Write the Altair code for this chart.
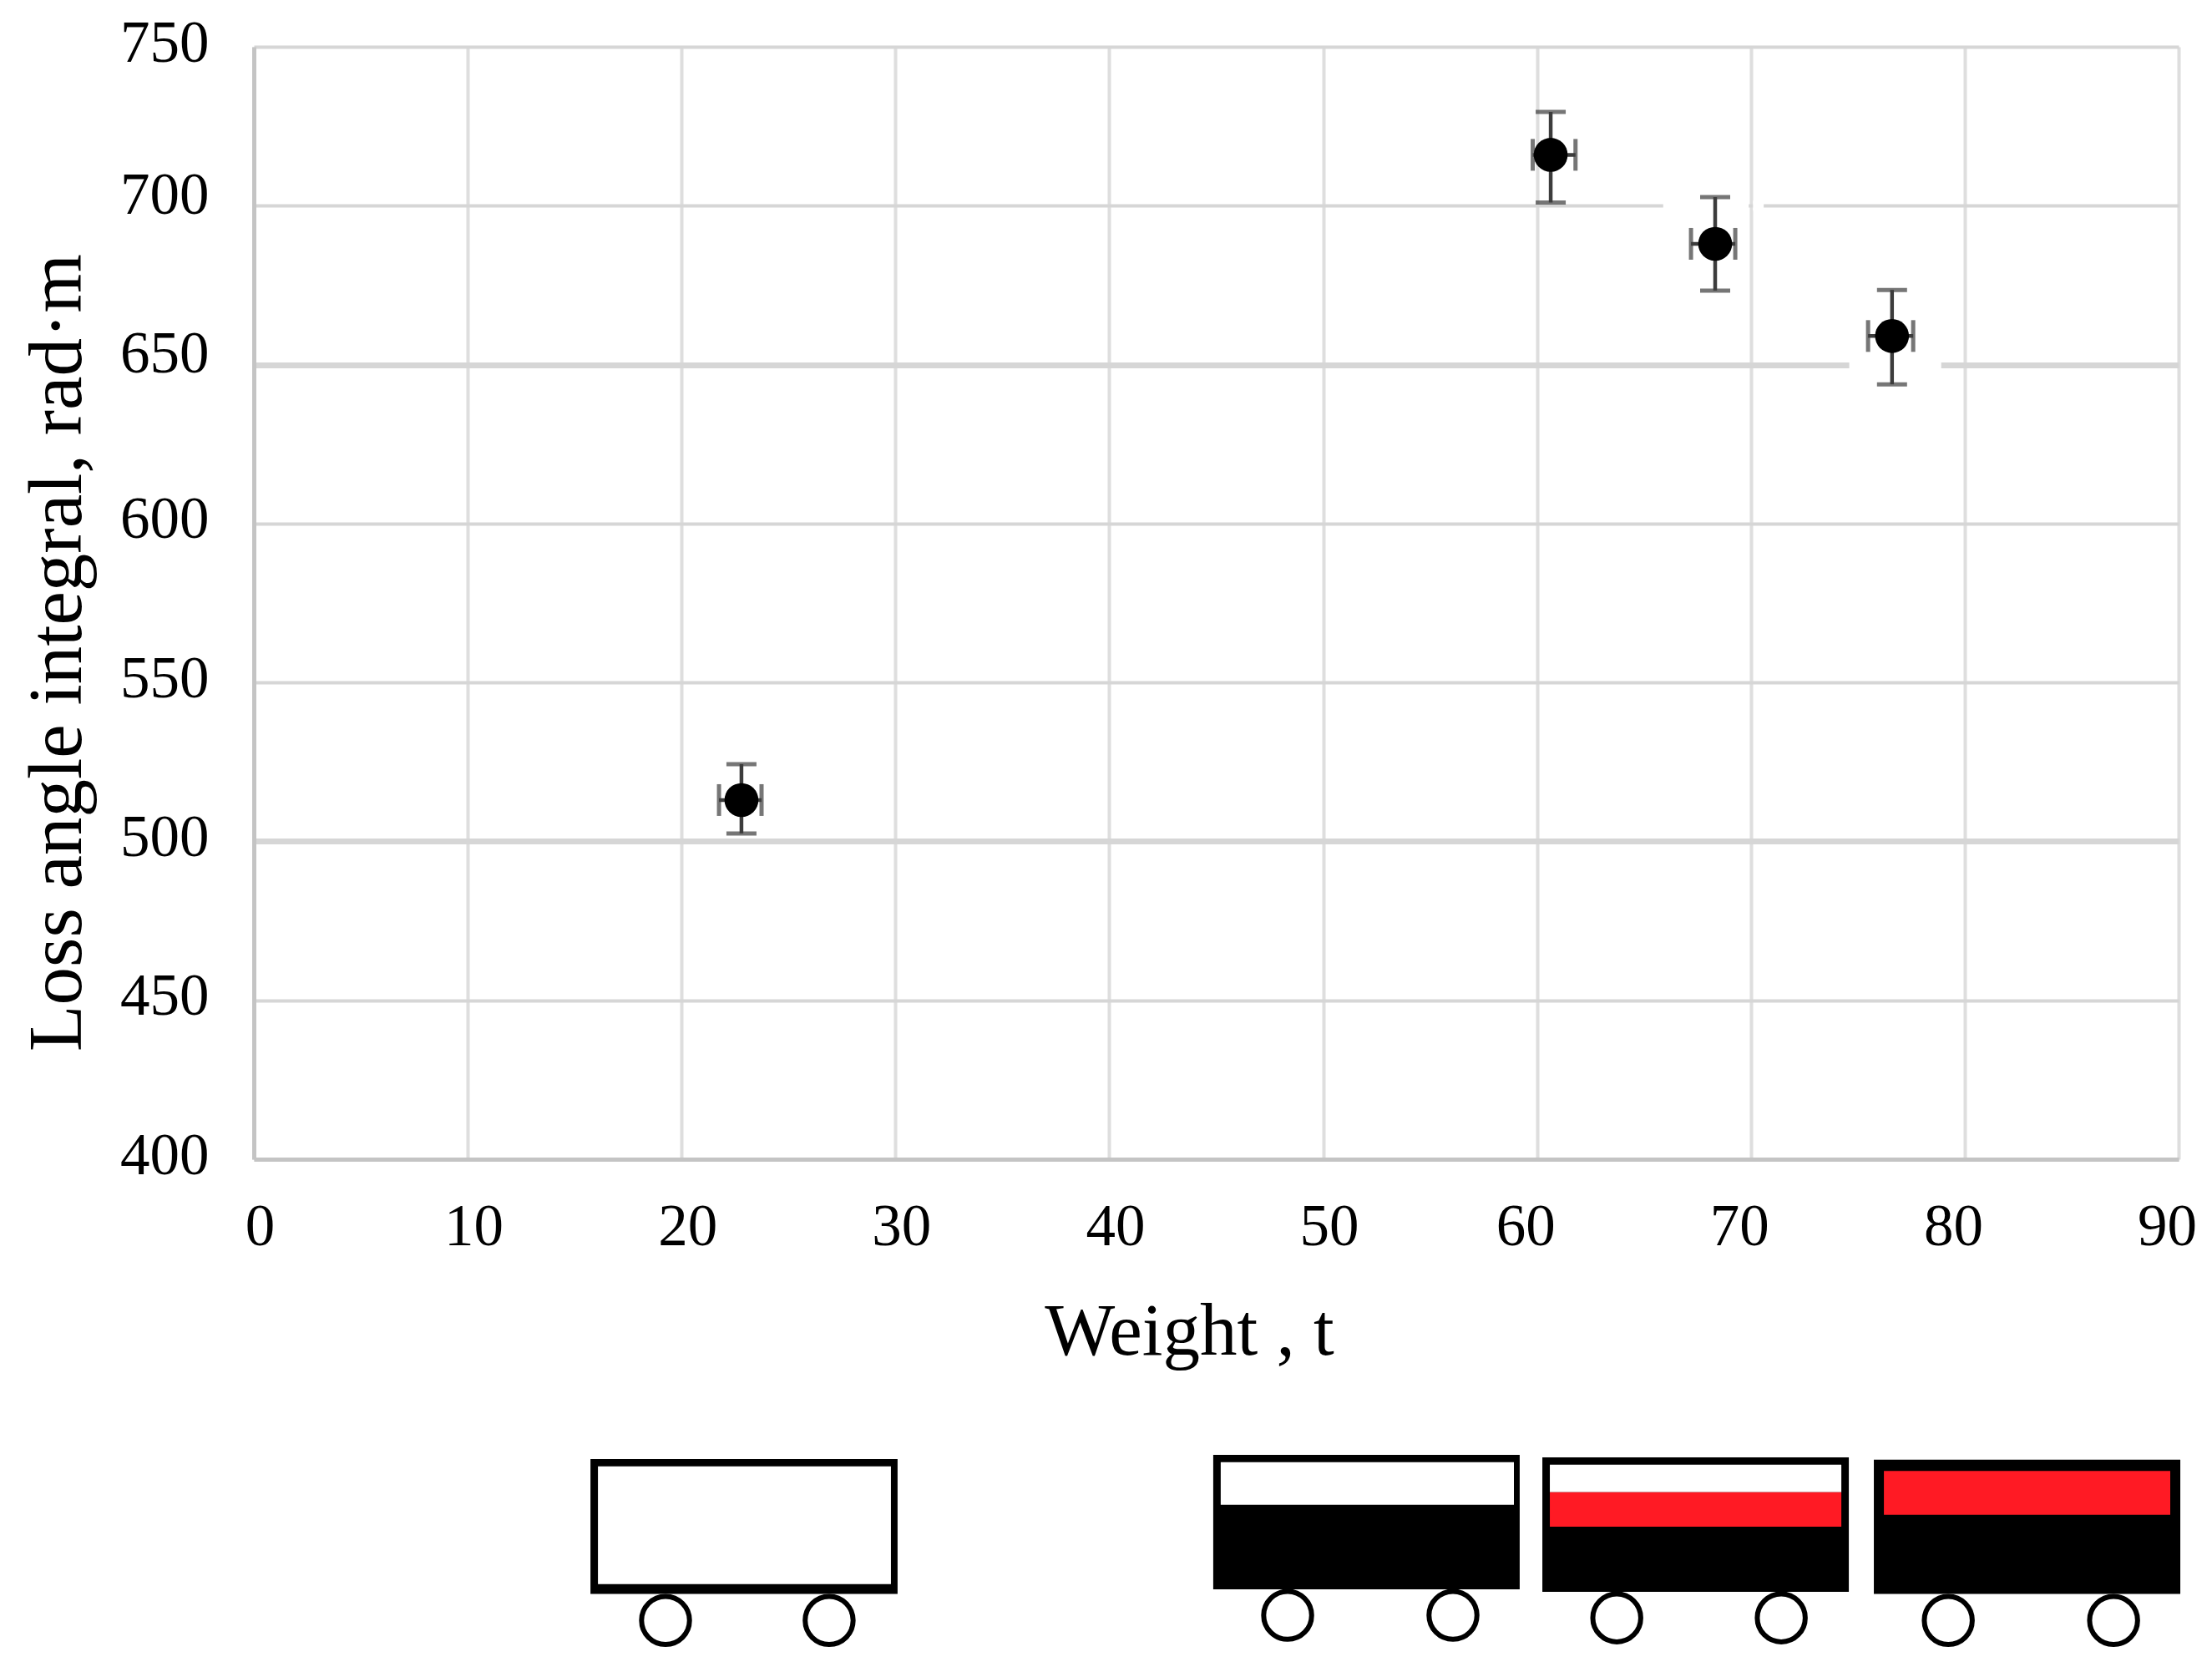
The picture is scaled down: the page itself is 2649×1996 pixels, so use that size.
import altair as alt
import pandas as pd

# measured points
weight = [22.8, 60.64, 68.33, 76.6]
loss = [513, 716, 688, 659]
loss_lo = [502.5, 701, 673.3, 643.8]
loss_hi = [524.3, 729.5, 702.7, 673.5]
weight_lo = [21.75, 59.8, 67.2, 75.48]
weight_hi = [23.74, 61.8, 69.27, 77.59]

x_ticks = [0, 10, 20, 30, 40, 50, 60, 70, 80, 90]
y_ticks = [400, 450, 500, 550, 600, 650, 700, 750]

# wagon pictogram, in data units below the axis
box_x = [15.74, 16.09, 44.86, 45.21, 60.25, 60.6, 60.6, 75.75, 76.22]
box_x2 = [30.1, 29.79, 59.19, 58.92, 74.58, 74.23, 74.23, 90.08, 89.61]
box_y = [305.7, 303.4, 307.0, 304.7, 306.2, 303.9, 295.2, 305.5, 301.9]
box_y2 = [263.2, 266.3, 264.7, 291.3, 263.9, 295.2, 284.4, 263.2, 288.1]
box_color = ["#000000", "#ffffff", "#000000", "#ffffff", "#000000", "#ffffff", "#ff1a24", "#000000", "#ff1a24"]
wheel_x = [19.25, 26.9, 48.34, 56.07, 63.73, 71.42, 79.23, 86.96]
wheel_y = [254.9, 254.9, 256.5, 256.5, 255.7, 255.7, 254.9, 254.9]

# places where the picture's grid lines are broken
gap_x = [65.9, 70.1, 74.6]
gap_x2 = [69.9, 70.6, 78.9]
gap_y = [700, 700, 650]

pts = pd.DataFrame(dict(x=weight, y=loss, ylo=loss_lo, yhi=loss_hi, xlo=weight_lo, xhi=weight_hi))
boxes = pd.DataFrame(dict(x=box_x, x2=box_x2, y=box_y, y2=box_y2, c=box_color))
wheels = pd.DataFrame(dict(x=wheel_x, y=wheel_y))
gaps = pd.DataFrame(dict(x=gap_x, x2=gap_x2, y=gap_y))

FONT = "Liberation Serif"
INK = "#3c3c3c"
xs = alt.Scale(domain=[0, 90], nice=False, zero=False)
ys = alt.Scale(domain=[400, 750], nice=False, zero=False)

x_axis = alt.Axis(
    values=x_ticks, title="Weight , t", format="d", grid=True, ticks=False,
    gridColor="#dedede", gridWidth=4,
    domainColor="#c4c4c4", domainWidth=5,
    labelFont=FONT, labelFontSize=71, labelColor="#000000", labelPadding=46,
    labelFlush=False, labelOverlap=False,
    labelOffset={"condition": {"test": "datum.value >= 60", "value": -14}, "value": 7},
    titleFont=FONT, titleFontSize=89, titleFontWeight="normal", titleColor="#000000",
    titleX=1120, titleY=233, titleAlign="center", titleBaseline="alphabetic",
)
y_axis = alt.Axis(
    values=y_ticks, title="Loss angle integral, rad·m", format="d", grid=True, ticks=False,
    gridColor="#d6d6d6",
    gridWidth={"condition": {"test": "datum.value == 650 || datum.value == 500", "value": 7}, "value": 4},
    domainColor="#c4c4c4", domainWidth=5,
    labelFont=FONT, labelFontSize=71, labelColor="#000000", labelPadding=54,
    labelFlush=False, labelOverlap=False,
    labelOffset={"condition": {"test": "datum.value == 650 || datum.value == 700", "value": -12}, "value": -4},
    titleFont=FONT, titleFontSize=91, titleFontWeight="normal", titleColor="#000000",
    titleAngle=270, titleX=-208, titleY=725, titleAlign="center", titleBaseline="alphabetic",
)
X = alt.X("x:Q", scale=xs, axis=x_axis)
Y = alt.Y("y:Q", scale=ys, axis=y_axis)
XLO = alt.X("xlo:Q", scale=xs, axis=x_axis)
XHI = alt.X("xhi:Q", scale=xs, axis=x_axis)
YLO = alt.Y("ylo:Q", scale=ys, axis=y_axis)
YHI = alt.Y("yhi:Q", scale=ys, axis=y_axis)

gap_layer = alt.Chart(gaps).mark_rule(color="#ffffff", strokeWidth=12).encode(x=X, x2="x2:Q", y=Y)
vbar = alt.Chart(pts).mark_rule(color=INK, strokeWidth=4.5).encode(x=X, y=YLO, y2="yhi:Q")
hbar = alt.Chart(pts).mark_rule(color=INK, strokeWidth=4.5).encode(x=XLO, x2="xhi:Q", y=Y)
cap_lo = alt.Chart(pts).mark_tick(color=INK, thickness=5, size=36, orient="horizontal").encode(x=X, y=YLO)
cap_hi = alt.Chart(pts).mark_tick(color=INK, thickness=5, size=36, orient="horizontal").encode(x=X, y=YHI)
cap_l = alt.Chart(pts).mark_tick(color=INK, thickness=5, size=38, orient="vertical").encode(x=XLO, y=Y)
cap_r = alt.Chart(pts).mark_tick(color=INK, thickness=5, size=38, orient="vertical").encode(x=XHI, y=Y)
dots = alt.Chart(pts).mark_circle(color="#000000", opacity=1, size=1650).encode(x=X, y=Y)
box_layer = alt.Chart(boxes).mark_rect().encode(
    x=X, x2="x2:Q", y=Y, y2="y2:Q", color=alt.Color("c:N", scale=None)
)
wheel_layer = alt.Chart(wheels).mark_point(
    shape="circle", fill="#ffffff", stroke="#000000", strokeWidth=6, opacity=1, size=3300
).encode(x=X, y=Y)

chart = alt.layer(
    gap_layer, vbar, hbar, cap_lo, cap_hi, cap_l, cap_r, dots, box_layer, wheel_layer
).properties(
    width=2305, height=1332,
    autosize=alt.AutoSizeParams(type="none"),
    padding={"left": 296, "top": 48, "right": 30, "bottom": 590},
    background="#ffffff",
).configure_view(stroke=None)

chart.save("out.html", embed_options={"renderer": "svg", "actions": False})
